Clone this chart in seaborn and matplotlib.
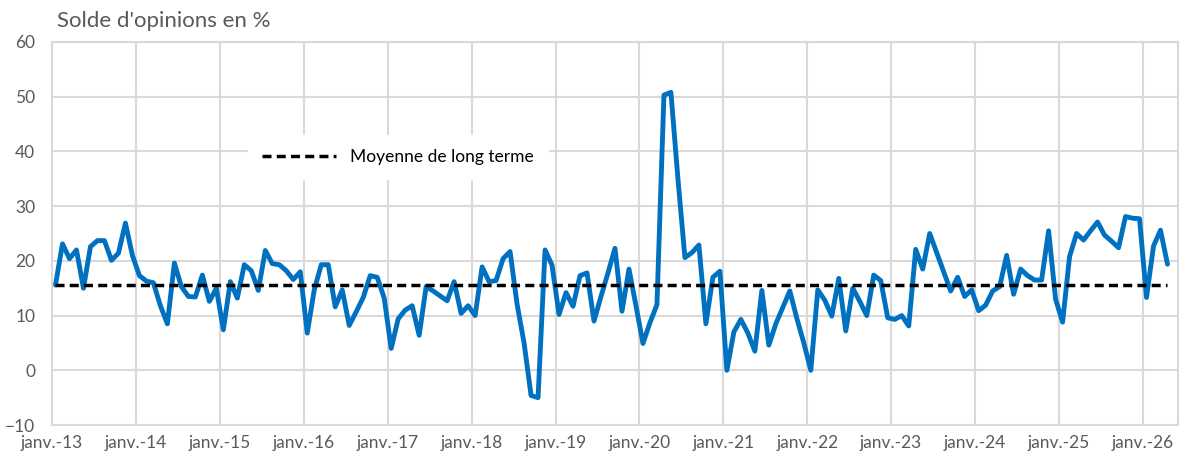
import numpy as np
import pandas as pd
import matplotlib.pyplot as plt
import seaborn as sns

# Style
sns.set_theme(style="white")
plt.rcParams["font.family"] = ["Lato", "DejaVu Sans"]

# Donnees mensuelles (solde d'opinions en %), janv. 2013 -> avr. 2026
solde_2013 = [15.6, 23.1, 20.4, 22.0, 15.0, 22.6, 23.7, 23.7, 20.1, 21.4, 26.9, 21.0]
solde_2014 = [17.3, 16.3, 16.0, 11.8, 8.5, 19.6, 15.3, 13.5, 13.4, 17.4, 12.6, 15.0]
solde_2015 = [7.4, 16.2, 13.2, 19.3, 18.2, 14.6, 21.9, 19.5, 19.3, 18.2, 16.6, 18.0]
solde_2016 = [6.8, 14.7, 19.3, 19.3, 11.6, 14.7, 8.2, 10.7, 13.3, 17.3, 17.0, 13.2]
solde_2017 = [4.0, 9.4, 11.0, 11.8, 6.4, 15.3, 14.5, 13.6, 12.7, 16.2, 10.4, 11.8]
solde_2018 = [10.0, 18.9, 16.2, 16.4, 20.4, 21.7, 12.1, 5.0, -4.6, -5.0, 22.0, 19.2]
solde_2019 = [10.2, 14.2, 11.7, 17.3, 17.8, 9.0, 13.5, 17.8, 22.3, 10.8, 18.5, 11.8]
solde_2020 = [4.9, 8.7, 12.0, 50.3, 50.8, 35.0, 20.6, 21.5, 22.9, 8.5, 17.0, 18.1]
solde_2021 = [0.0, 7.0, 9.3, 6.8, 3.5, 14.6, 4.6, 8.5, 11.5, 14.5, 9.5, 5.0]
solde_2022 = [0.0, 14.7, 12.8, 9.9, 16.8, 7.2, 15.0, 12.6, 10.0, 17.4, 16.4, 9.6]
solde_2023 = [9.3, 10.0, 8.1, 22.1, 18.5, 25.0, 21.5, 18.0, 14.5, 17.0, 13.5, 14.7]
solde_2024 = [10.9, 11.9, 14.5, 15.3, 21.0, 13.9, 18.5, 17.3, 16.5, 16.5, 25.5, 13.0]
solde_2025 = [8.8, 20.8, 25.0, 23.8, 25.5, 27.1, 24.7, 23.6, 22.4, 28.1, 27.8, 27.7]
solde_2026 = [13.3, 22.7, 25.6, 19.4]
moyenne_lt = 15.6

annees = list(range(2013, 2027))
labels_x = [f"janv.-{a % 100}" for a in annees]

solde = (solde_2013 + solde_2014 + solde_2015 + solde_2016 + solde_2017 + solde_2018
         + solde_2019 + solde_2020 + solde_2021 + solde_2022 + solde_2023 + solde_2024
         + solde_2025 + solde_2026)
df = pd.DataFrame({"mois": np.arange(len(solde)), "solde": solde})
df["moyenne"] = moyenne_lt

fig = plt.figure(figsize=(11.87, 4.58), dpi=100)
ax = fig.add_axes([0.0438, 0.072, 0.9486, 0.8363])

sns.lineplot(data=df, x="mois", y="solde", ax=ax, color="#0070C0", lw=3.5,
             solid_capstyle="round", solid_joinstyle="round", legend=False)
sns.lineplot(data=df, x="mois", y="moyenne", ax=ax, color="black", lw=2.5,
             linestyle=(0, (2.6, 1.5)), label="Moyenne de long terme")

# Axes
ax.set_xlim(-0.5, 160.5)
ax.set_ylim(-10, 60)
ax.set_xticks([12 * i - 0.5 for i in range(len(annees))])
ax.set_xticklabels(labels_x)
ax.set_yticks(range(-10, 61, 10))
ax.set_xlabel("")
ax.set_ylabel("")
ax.grid(True, color="#D9D9D9", lw=1.5)
for s in ax.spines.values():
    s.set_color("#D9D9D9")
    s.set_linewidth(1.5)
ax.tick_params(axis="both", length=0, labelsize=12.5, colors="#595959")
ax.tick_params(axis="y", pad=12)
ax.tick_params(axis="x", pad=7)

leg = ax.legend(loc="center", bbox_to_anchor=(0.307, 0.70), fontsize=12.5,
                handlelength=4.3, frameon=True, facecolor="white",
                edgecolor="white", framealpha=1, borderpad=0.8)
for t in leg.get_texts():
    t.set_color("black")

fig.text(57 / 1187, 1 - 21 / 458, "Solde d'opinions en %", fontsize=16,
         color="#595959", va="center", ha="left")

fig.savefig("out.png", dpi=100)
